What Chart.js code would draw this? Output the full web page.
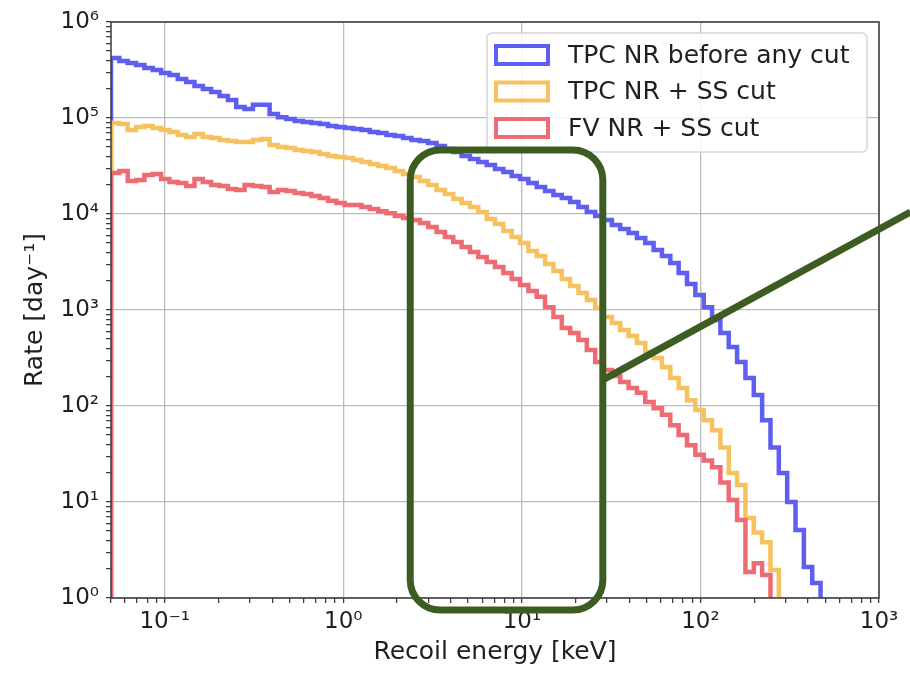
<!DOCTYPE html>
<html>
<head>
<meta charset="utf-8">
<script src="https://cdn.jsdelivr.net/npm/chart.js@4.4.1/dist/chart.umd.min.js"></script>
<style>
  html, body { margin: 0; padding: 0; background: #fff; }
</style>
</head>
<body>
<canvas id="chart" width="910" height="677"></canvas>
<script>
// log-spaced histogram bins (like np.logspace)
const binLow = 0.05;
const binHigh = 1000;
const binCount = 92;
const binEdges = Array.from({ length: binCount + 1 }, (_, i) => binLow * Math.pow(binHigh / binLow, i / binCount));

const seriesLabels = ['TPC NR before any cut', 'TPC NR + SS cut', 'FV NR + SS cut'];
const seriesColors = ['#5e5ef0', '#f6c25f', '#ef6b74'];

// rate per bin [day^-1]
const blueRate = [
  4.22e5, 3.93e5, 3.74e5, 3.56e5, 3.32e5, 3.16e5, 2.94e5, 2.81e5, 2.55e5, 2.37e5,
  2.15e5, 2.00e5, 1.87e5, 1.69e5, 1.54e5, 1.30e5, 1.24e5, 1.37e5, 1.37e5, 1.10e5,
  1.02e5, 9.77e4, 9.31e4, 9.08e4, 8.87e4, 8.66e4, 8.25e4, 8.06e4, 7.87e4, 7.68e4,
  7.50e4, 7.15e4, 6.98e4, 6.65e4, 6.49e4, 6.19e4, 5.90e4, 5.76e4, 5.49e4, 5.11e4,
  4.75e4, 4.42e4, 4.02e4, 3.74e4, 3.48e4, 3.24e4, 2.94e4, 2.74e4, 2.49e4, 2.32e4,
  2.10e4, 1.91e4, 1.74e4, 1.58e4, 1.47e4, 1.33e4, 1.18e4, 1.05e4, 9.53e3, 8.66e3,
  7.68e3, 6.98e3, 6.34e3, 5.62e3, 4.99e3, 4.22e3, 3.65e3, 3.09e3, 2.43e3, 1.87e3,
  1.43e3, 1.07e3, 787, 576, 412, 287, 196, 130, 71, 37,
  20, 10, 5.1, 2.1, 1.43
];
const orangeRate = [
  8.87e4, 8.66e4, 7.50e4, 8.06e4, 8.25e4, 7.87e4, 7.50e4, 7.15e4, 6.65e4, 6.34e4,
  6.81e4, 6.34e4, 6.19e4, 5.90e4, 5.76e4, 5.62e4, 5.62e4, 5.90e4, 6.04e4, 5.24e4,
  4.99e4, 4.87e4, 4.64e4, 4.53e4, 4.42e4, 4.22e4, 4.02e4, 3.93e4, 3.83e4, 3.65e4,
  3.48e4, 3.32e4, 3.16e4, 3.01e4, 2.81e4, 2.61e4, 2.43e4, 2.21e4, 2.00e4, 1.78e4,
  1.62e4, 1.43e4, 1.30e4, 1.18e4, 1.05e4, 8.87e3, 7.87e3, 6.65e3, 5.76e3, 4.99e3,
  4.12e3, 3.65e3, 3.01e3, 2.55e3, 2.10e3, 1.78e3, 1.50e3, 1.27e3, 1.05e3, 845,
  732, 619, 536, 453, 365, 316, 255, 196, 154, 115,
  91, 71, 56, 37, 20, 15, 6.8, 4.8, 3.8, 1.96
];
const redRate = [
  2.67e4, 2.81e4, 2.21e4, 2.26e4, 2.55e4, 2.61e4, 2.32e4, 2.15e4, 2.10e4, 1.96e4,
  2.32e4, 2.15e4, 2.00e4, 1.96e4, 1.82e4, 1.78e4, 2.00e4, 1.96e4, 1.91e4, 1.69e4,
  1.78e4, 1.74e4, 1.65e4, 1.62e4, 1.54e4, 1.47e4, 1.37e4, 1.30e4, 1.24e4, 1.24e4,
  1.18e4, 1.13e4, 1.07e4, 1.02e4, 9.53e3, 9.09e3, 8.66e3, 8.06e3, 7.33e3, 6.49e3,
  5.76e3, 5.11e3, 4.53e3, 4.02e3, 3.56e3, 3.16e3, 2.81e3, 2.43e3, 2.10e3, 1.82e3,
  1.58e3, 1.37e3, 1.07e3, 845, 649, 576, 487, 383, 287, 237,
  205, 178, 154, 137, 110, 95, 81, 63, 50, 39,
  31, 27, 23, 16, 10.5, 6.5, 1.87, 2.3, 1.74
];

const xDecades = [0.1, 1, 10, 100, 1000];
const xTickLabels = ['10⁻¹', '10⁰', '10¹', '10²', '10³'];
const yDecades = [1, 10, 100, 1e3, 1e4, 1e5, 1e6];
const yTickLabels = ['10⁰', '10¹', '10²', '10³', '10⁴', '10⁵', '10⁶'];

// green highlight drawn on top (data coordinates)
const highlightBox = { xFrom: 2.37, xTo: 28.4, yFrom: 0.75, yTo: 4.64e4 };
const highlightPointer = { xFrom: 28.4, yFrom: 187, xTo: 1500, yTo: 1.05e4 };

const FLOOR = 0.1;
const FONT = 'DejaVu Sans';

function stepPoints(values) {
  const pts = [{ x: binEdges[0], y: FLOOR }];
  values.forEach((v, i) => pts.push({ x: binEdges[i], y: v }));
  const end = binEdges[values.length];
  pts.push({ x: end, y: values[values.length - 1] });
  pts.push({ x: end, y: FLOOR });
  return pts;
}

function isDecade(v) {
  const l = Math.log10(v);
  return Math.abs(l - Math.round(l)) < 1e-6;
}

function logTicks(min, max) {
  const out = [];
  for (let e = Math.floor(Math.log10(min)); e <= Math.ceil(Math.log10(max)); e++) {
    for (let k = 1; k <= 9; k++) {
      const v = k * Math.pow(10, e);
      if (v >= min * 0.999999 && v <= max * 1.000001) out.push({ value: v });
    }
  }
  return out;
}

function labelFor(decades, labels) {
  return (value) => {
    const i = decades.findIndex(d => Math.abs(d - value) / d < 1e-6);
    return i >= 0 ? labels[i] : '';
  };
}

const gridColor = (ctx) => (ctx.tick && isDecade(ctx.tick.value)) ? 'rgba(176,176,176,0.85)' : 'rgba(0,0,0,0)';

const framePlugin = {
  id: 'frame',
  afterDatasetsDraw(chart) {
    const { ctx, chartArea: a } = chart;
    ctx.save();
    ctx.strokeStyle = '#3a3a3a';
    ctx.lineWidth = 1.5;
    ctx.strokeRect(a.left, a.top, a.right - a.left, a.bottom - a.top);
    ctx.restore();
  }
};

const boxLegendPlugin = {
  id: 'boxLegend',
  afterDraw(chart) {
    const { ctx, chartArea: a } = chart;
    const w = 380, h = 119;
    const left = a.right - 12 - w;
    const top = a.top + 11;
    ctx.save();
    ctx.beginPath();
    ctx.roundRect(left, top, w, h, 5);
    ctx.fillStyle = 'rgba(255,255,255,0.85)';
    ctx.fill();
    ctx.strokeStyle = '#d6d6d6';
    ctx.lineWidth = 1.5;
    ctx.stroke();
    ctx.font = '25px "' + FONT + '"';
    ctx.textBaseline = 'middle';
    ctx.textAlign = 'left';
    seriesLabels.forEach((label, i) => {
      const cy = top + 22 + i * 36.5;
      ctx.strokeStyle = seriesColors[i];
      ctx.lineWidth = 4;
      ctx.strokeRect(left + 9, cy - 9, 52, 18);
      ctx.fillStyle = '#1f1f1f';
      ctx.fillText(label, left + 81, cy + 1);
    });
    ctx.restore();
  }
};

const highlightPlugin = {
  id: 'highlight',
  afterDraw(chart) {
    const { ctx, scales: { x, y } } = chart;
    const x0 = x.getPixelForValue(highlightBox.xFrom);
    const x1 = x.getPixelForValue(highlightBox.xTo);
    const y0 = y.getPixelForValue(highlightBox.yTo);
    const y1 = y.getPixelForValue(highlightBox.yFrom);
    ctx.save();
    ctx.strokeStyle = '#3d5c22';
    ctx.lineWidth = 7;
    ctx.beginPath();
    ctx.roundRect(x0, y0, x1 - x0, y1 - y0, 30);
    ctx.stroke();
    ctx.beginPath();
    ctx.moveTo(x.getPixelForValue(highlightPointer.xFrom), y.getPixelForValue(highlightPointer.yFrom));
    ctx.lineTo(x.getPixelForValue(highlightPointer.xTo), y.getPixelForValue(highlightPointer.yTo));
    ctx.stroke();
    ctx.restore();
  }
};

const series = [blueRate, orangeRate, redRate];

new Chart(document.getElementById('chart'), {
  type: 'line',
  data: {
    datasets: series.map((values, i) => ({
      label: seriesLabels[i],
      data: stepPoints(values),
      borderColor: seriesColors[i],
      borderWidth: 4.5,
      stepped: 'before',
      pointRadius: 0,
      fill: false,
      borderJoinStyle: 'miter',
      order: 3 - i
    }))
  },
  options: {
    responsive: false,
    animation: false,
    devicePixelRatio: 1,
    layout: { padding: { left: 0, top: 22, right: 31, bottom: 0 } },
    plugins: {
      legend: { display: false },
      tooltip: { enabled: false }
    },
    scales: {
      x: {
        type: 'logarithmic',
        min: 0.05,
        max: 1000,
        afterBuildTicks: (scale) => { scale.ticks = logTicks(scale.min, scale.max); },
        afterFit: (scale) => { scale.height = 79; },
        border: { display: false },
        grid: { color: gridColor, lineWidth: 1.3, tickColor: '#333', tickLength: 5, tickWidth: 1.2 },
        ticks: {
          autoSkip: false, maxRotation: 0, minRotation: 0, padding: 5,
          color: '#1f1f1f', font: { family: FONT, size: 23 },
          callback: labelFor(xDecades, xTickLabels)
        },
        title: {
          display: true, text: 'Recoil energy [keV]', color: '#1f1f1f',
          font: { family: FONT, size: 25 }, padding: { top: 0, bottom: 10 }
        }
      },
      y: {
        type: 'logarithmic',
        min: 1,
        max: 1e6,
        afterBuildTicks: (scale) => { scale.ticks = logTicks(scale.min, scale.max); },
        afterFit: (scale) => { scale.width = 111; },
        border: { display: false },
        grid: { color: gridColor, lineWidth: 1.3, tickColor: '#333', tickLength: 5, tickWidth: 1.2 },
        ticks: {
          autoSkip: false, padding: 7,
          color: '#1f1f1f', font: { family: FONT, size: 23 },
          callback: labelFor(yDecades, yTickLabels)
        },
        title: {
          display: true, text: 'Rate [day⁻¹]', color: '#1f1f1f',
          font: { family: FONT, size: 25 }, padding: { top: 20, bottom: 0 }
        }
      }
    }
  },
  plugins: [framePlugin, boxLegendPlugin, highlightPlugin]
});
</script>
</body>
</html>
